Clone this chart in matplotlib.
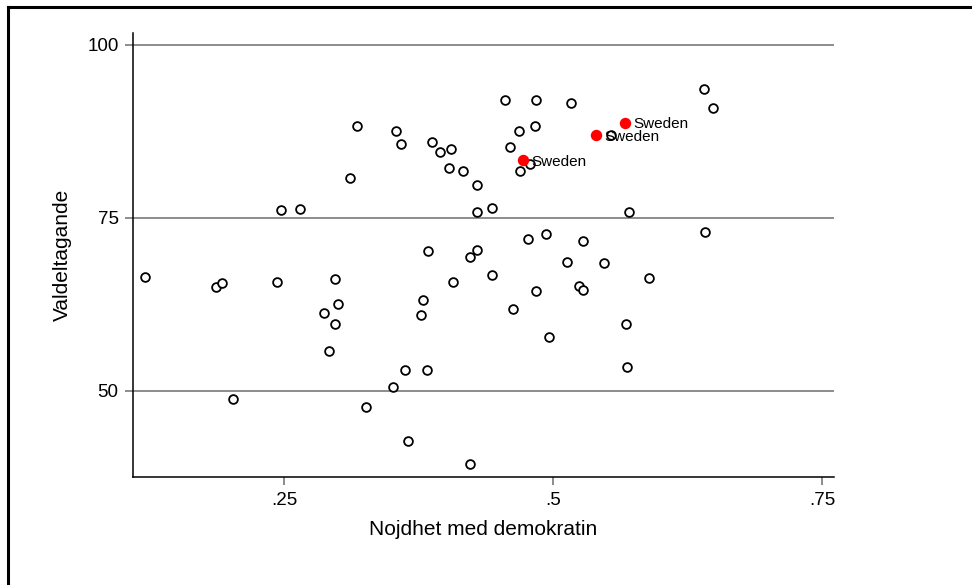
import matplotlib
matplotlib.use("Agg")
import matplotlib.pyplot as plt
from matplotlib.lines import Line2D

plt.rcParams["font.family"] = ["Liberation Sans", "DejaVu Sans"]

# nojdhet med demokratin (x) och valdeltagande (y), ovriga lander
nojdhet = [
    0.318, 0.354, 0.359, 0.388, 0.395, 0.405, 0.403, 0.416, 0.429, 0.311,
    0.247, 0.265, 0.429, 0.384, 0.423, 0.429, 0.121, 0.187, 0.192, 0.244,
    0.297, 0.300, 0.287, 0.297, 0.292, 0.203, 0.326, 0.351, 0.362, 0.383,
    0.379, 0.377, 0.407, 0.365, 0.423, 0.455, 0.484, 0.517, 0.640, 0.649,
    0.483, 0.468, 0.460, 0.469, 0.479, 0.554, 0.443, 0.571, 0.641, 0.477,
    0.493, 0.528, 0.513, 0.547, 0.443, 0.484, 0.524, 0.528, 0.589, 0.463,
    0.568, 0.496, 0.569,
]
valdeltagande = [
    88.3, 87.6, 85.6, 85.9, 84.5, 85.0, 82.2, 81.7, 79.8, 80.7,
    76.2, 76.3, 75.8, 70.2, 69.3, 70.3, 66.4, 65.0, 65.6, 65.7,
    66.1, 62.5, 61.2, 59.6, 55.7, 48.9, 47.7, 50.6, 53.0, 53.0,
    63.2, 61.0, 65.8, 42.8, 39.4, 92.0, 92.0, 91.6, 93.6, 90.9,
    88.2, 87.5, 85.3, 81.8, 82.8, 86.9, 76.4, 75.8, 72.9, 71.9,
    72.7, 71.6, 68.6, 68.5, 66.7, 64.4, 65.1, 64.6, 66.3, 61.8,
    59.7, 57.8, 53.5,
]

# Sverige
sweden_x = [0.567, 0.540, 0.472]
sweden_y = [88.7, 86.9, 83.3]
sweden_label = "Sweden"

x_ticks = [0.25, 0.5, 0.75]
x_ticklabels = [".25", ".5", ".75"]
y_ticks = [50, 75, 100]
y_ticklabels = ["50", "75", "100"]

fig = plt.figure(figsize=(9.72, 5.85), dpi=100)
ax = fig.add_axes([0.1371, 0.1838, 0.7209, 0.7598])

for yv in y_ticks:
    ax.axhline(yv, color="#6e6e6e", lw=1.1, zorder=1)

ax.plot(nojdhet, valdeltagande, "o", mfc="white", mec="black", mew=1.3,
        ms=6.3, ls="none", zorder=3)
ax.plot(sweden_x, sweden_y, "o", color="red", ms=7.2, ls="none", zorder=4)
for sx, sy in zip(sweden_x, sweden_y):
    ax.annotate(sweden_label, (sx, sy), xytext=(6, -1), textcoords="offset points",
                ha="left", va="center", fontsize=11, zorder=5)

ax.set_xlim(0.110, 0.761)
ax.set_ylim(37.5, 101.7)
ax.set_xticks(x_ticks)
ax.set_xticklabels(x_ticklabels)
ax.set_yticks(y_ticks)
ax.set_yticklabels(y_ticklabels)
ax.tick_params(axis="both", labelsize=13.5, length=5.5, width=1.1,
               color="#6e6e6e", pad=5)

for side in ["top", "right"]:
    ax.spines[side].set_visible(False)
for side in ["left", "bottom"]:
    ax.spines[side].set_linewidth(1.1)

ax.set_xlabel("Nojdhet med demokratin", fontsize=15, labelpad=8)
ax.set_ylabel("Valdeltagande", fontsize=15, labelpad=11)

# ram runt grafen (bara ovre och vanstra kanten syns)
fig.add_artist(Line2D([8 / 972, 8 / 972], [0, 1 - 7 / 585], color="black",
                      lw=2.2, transform=fig.transFigure))
fig.add_artist(Line2D([8 / 972, 1], [1 - 7 / 585, 1 - 7 / 585], color="black",
                      lw=2.2, transform=fig.transFigure))

fig.savefig("out.png", dpi=100)
